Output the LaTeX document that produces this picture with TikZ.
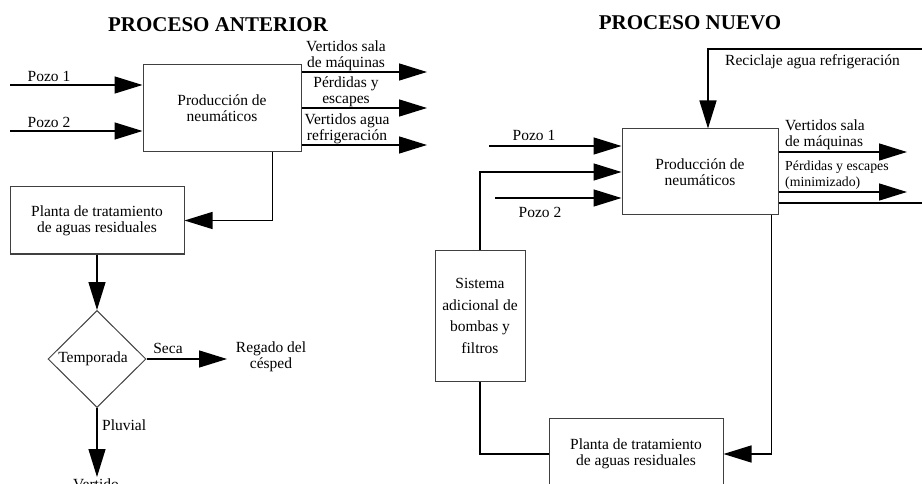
\documentclass[tikz,border=0pt]{standalone}
\usepackage{fontspec}
\setmainfont{Liberation Serif}
\usetikzlibrary{arrows.meta,shapes.geometric,calc}
\begin{document}
\begin{tikzpicture}[x=1pt,y=-1pt,
  every node/.style={font=\fontsize{15.5}{16}\selectfont},
  ttl/.style={font=\fontsize{21}{22}\selectfont\bfseries},
  box/.style={draw=black!75,line width=1pt,align=center,inner sep=0pt},
  lbl/.style={inner sep=0pt,align=center},
  arr/.style={-{Triangle[length=28pt,width=17pt]},line width=1.4pt},
  ln/.style={line width=1.4pt}]
\useasboundingbox (0,0) rectangle (922,484);
\clip (0,0) rectangle (922,484);
% ---------- left: proceso anterior ----------
\node[ttl] (t1) at (218,25) {PROCESO ANTERIOR};
\node[box,minimum width=158pt,minimum height=87pt] (prod1) at (222,108.5) {Producción de\\neumáticos};
\coordinate (p1) at (10,85);
\coordinate (p2) at (10,131);
\draw[arr] (p1) -- (p1 -| prod1.west);
\draw[arr] (p2) -- (p2 -| prod1.west);
\node[lbl] (lp1) at (49,76) {Pozo 1};
\node[lbl] (lp2) at (49,122) {Pozo 2};
\coordinate (o1) at (427,72);
\coordinate (o2) at (427,108);
\coordinate (o3) at (427,145);
\draw[arr] (o1 -| prod1.east) -- (o1);
\draw[arr] (o2 -| prod1.east) -- (o2);
\draw[arr] (o3 -| prod1.east) -- (o3);
\node[lbl] (lo1) at (346,56) {Vertidos sala\\de máquinas};
\node[lbl] (lo2) at (346,92) {Pérdidas y\\escapes};
\node[lbl] (lo3) at (347,129) {Vertidos agua\\refrigeración};
\node[box,minimum width=174pt,minimum height=67pt] (pl1) at (97,220.5) {Planta de tratamiento\\de aguas residuales};
\draw[arr] ($(prod1.south east)+(-29,0)$) |- (pl1.east);
\node[draw=black!75,line width=1pt,diamond,minimum width=98pt,minimum height=97pt,inner sep=0pt] (dia) at (97,359) {};
\node[lbl] (tmp) at (93,359) {Temporada};
\draw[arr] (pl1.south) -- (dia.north);
\coordinate (sec) at (227,359);
\draw[arr] (dia.east) -- (sec);
\node[lbl] (lsec) at (168,348) {Seca};
\node[lbl] (reg) at (271,357) {Regado del\\césped};
\coordinate (ver) at (97,477);
\draw[arr] (dia.south) -- (ver);
\node[lbl,anchor=west] (lplu) at (102,425) {Pluvial};
\node[inner sep=0pt,anchor=base] (vert) at (96,489) {Vertido};
% ---------- right: proceso nuevo ----------
\node[ttl] (t2) at (690,23) {PROCESO NUEVO};
\node[box,minimum width=156pt,minimum height=86pt] (prod2) at (700,172) {Producción de\\neumáticos};
\coordinate (rc1) at (926,203);
\coordinate (rc2) at (926,49);
\coordinate (rc3) at (708,49);
\draw[arr] (rc1 -| prod2.east) -- (rc1) -- (rc2) -- (rc3) -- (rc3 |- prod2.north);
\node[lbl,anchor=west] (lrec) at (725,62) {Reciclaje agua refrigeración};
\coordinate (q1) at (489,146);
\coordinate (q2) at (495,198);
\draw[arr] (q1) -- (q1 -| prod2.west);
\draw[arr] (q2) -- (q2 -| prod2.west);
\node[lbl] (lq1) at (534,135) {Pozo 1};
\node[lbl] (lq2) at (540,212) {Pozo 2};
\coordinate (r1) at (907,152);
\coordinate (r2) at (907,192);
\draw[arr] (r1 -| prod2.east) -- (r1);
\draw[arr] (r2 -| prod2.east) -- (r2);
\node[lbl,anchor=west,align=left] (lr1) at (785,135) {Vertidos sala\\de máquinas};
\node[lbl,anchor=west,align=left,font=\fontsize{13.8}{15.5}\selectfont] (lr2) at (785,175) {Pérdidas y escapes\\(minimizado)};
\node[box,minimum width=90pt,minimum height=130pt,font=\fontsize{15.5}{21.5}\selectfont] (sis) at (480,316) {Sistema\\adicional de\\bombas y\\filtros};
\node[box,minimum width=174pt,minimum height=72pt] (pl2) at (636,454) {Planta de tratamiento\\de aguas residuales};
\draw[arr] ($(prod2.south east)+(-7,0)$) |- (pl2.east);
\draw[ln] (pl2.west) -| (sis.south);
\draw[arr] (sis.north) |- (prod2.west);
\end{tikzpicture}
\end{document}
